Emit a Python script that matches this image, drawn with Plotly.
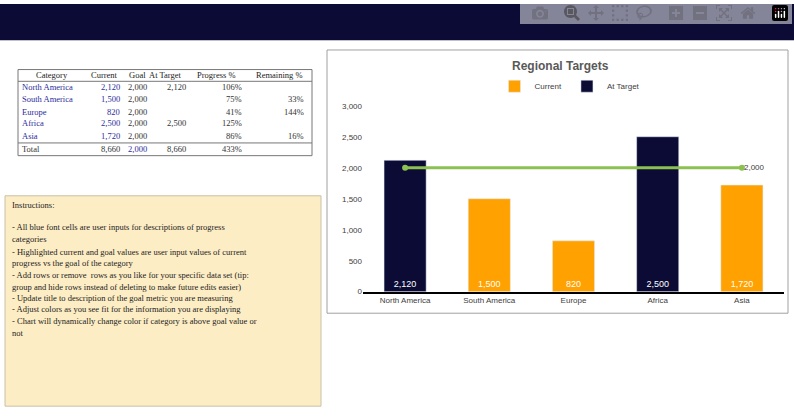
import plotly.graph_objects as go

W, H = 794, 419

categories = ['North America', 'South America', 'Europe', 'Africa', 'Asia']
current = [2120, 1500, 820, 2500, 1720]
goal = [2000, 2000, 2000, 2000, 2000]
at_target = [2120, None, None, 2500, None]
progress = ['106%', '75%', '41%', '125%', '86%']
remaining = ['', '33%', '144%', '', '16%']
total_row = ['Total', '8,660', '2,000', '8,660', '433%', '']

instructions = [
    'Instructions:',
    '',
    '- All blue font cells are user inputs for descriptions of progress',
    'categories',
    '- Highlighted current and goal values are user input values of current',
    'progress vs the goal of the category',
    '- Add rows or remove  rows as you like for your specific data set (tip:',
    'group and hide rows instead of deleting to make future edits easier)',
    '- Update title to description of the goal metric you are measuring',
    '- Adjust colors as you see fit for the information you are displaying',
    '- Chart will dynamically change color if category is above goal value or',
    'not',
]

NAVY = '#0b0b35'
ORANGE = '#ffa100'
GREEN = '#8cc152'
BLUE = '#2b2b9b'
SERIF = 'Liberation Serif'
SANS = 'Liberation Sans'


def px(x):
    return x / W


def py(y):
    return 1 - y / H


def label(x, y, text, size, color, family=SERIF, anchor='left'):
    return dict(x=px(x), y=py(y), xref='paper', yref='paper', text=text, showarrow=False,
                xanchor=anchor, yanchor='middle', font=dict(family=family, size=size, color=color))


fig = go.Figure()

below = [c if a is None else None for c, a in zip(current, at_target)]
fig.add_trace(go.Bar(x=categories, y=below, name='Current', marker_color=ORANGE,
                     width=0.5, text=[f'{v:,}' if v else '' for v in below],
                     textposition='inside', insidetextanchor='start',
                     textfont=dict(color='white', size=9, family=SANS)))
fig.add_trace(go.Bar(x=categories, y=at_target, name='At Target', marker_color=NAVY,
                     width=0.5, text=[f'{v:,}' if v else '' for v in at_target],
                     textposition='inside', insidetextanchor='start',
                     textfont=dict(color='white', size=9, family=SANS)))
fig.add_trace(go.Scatter(x=[categories[0], categories[-1]], y=[goal[0], goal[-1]],
                         mode='lines+markers', line=dict(color=GREEN, width=3),
                         marker=dict(size=6, color=GREEN), showlegend=False,
                         hoverinfo='skip'))
fig.add_annotation(x=categories[-1], y=goal[-1], text=f'{goal[-1]:,}', showarrow=False,
                   xanchor='left', yanchor='middle', font=dict(size=8, color='#404040', family=SANS))

shapes = []
ann = []

# banner
shapes.append(dict(type='rect', xref='paper', yref='paper', x0=0, x1=1, y0=py(37), y1=1,
                   fillcolor=NAVY, line_width=0, layer='below'))
ann.append(label(6, 19, '<b>Progress Chart with Single Target</b>', 19, 'white'))

# chart container
shapes.append(dict(type='rect', xref='paper', yref='paper', x0=px(327), x1=px(788), y0=py(316), y1=py(47),
                   line=dict(color='#a0a0a0', width=1), fillcolor='white', layer='below'))
ann.append(label(560, 63, '<b>Regional Targets</b>', 12, '#595959', SANS, 'center'))

# table
cols = [(20, 'left'), (122, 'right'), (126, 'left'), (188, 'right'), (244, 'right'), (306, 'right')]
header = ['Category', 'Current', 'Goal', 'At Target', 'Progress %', 'Remaining %']
header_x = [52, 104, 137, 165, 216, 279]
row_y = [85, 97, 110, 122, 135]
for h, xx in zip(header, header_x):
    ann.append(label(xx, 73, h, 8.5, '#222', anchor='center'))
for i, cat in enumerate(categories):
    vals = [cat, f'{current[i]:,}', f'{goal[i]:,}',
            f'{at_target[i]:,}' if at_target[i] else '', progress[i], remaining[i]]
    colors = [BLUE, BLUE, '#333', '#333', '#333', '#333']
    for (xx, anc), v, c in zip(cols, vals, colors):
        ann.append(label(xx, row_y[i], v, 8.5, c, anchor=anc))
tot_colors = ['#333', '#333', BLUE, '#333', '#333', '#333']
for (xx, anc), v, c in zip(cols, total_row, tot_colors):
    ann.append(label(xx, 148, v, 8.5, c, anchor=anc))
for yy in [67, 79, 142, 155]:
    shapes.append(dict(type='line', xref='paper', yref='paper', x0=px(18), x1=px(312), y0=py(yy), y1=py(yy),
                       line=dict(color='#777', width=1)))
for xx in [18, 312]:
    shapes.append(dict(type='line', xref='paper', yref='paper', x0=px(xx), x1=px(xx), y0=py(67), y1=py(155),
                       line=dict(color='#777', width=1)))

# instructions box
shapes.append(dict(type='rect', xref='paper', yref='paper', x0=px(5), x1=px(321), y0=py(411), y1=py(196),
                   fillcolor='#fdedc4', line=dict(color='#c8c0a8', width=1), layer='below'))
iy = [205, 216, 228, 240, 253, 265, 277, 289, 300, 312, 324, 336]
for t, yy in zip(instructions, iy):
    if t:
        ann.append(label(10, yy, t, 8.5, '#222'))

fig.update_layout(
    width=W, height=H, margin=dict(l=0, r=0, t=0, b=0),
    paper_bgcolor='white', plot_bgcolor='white',
    barmode='overlay', shapes=shapes, annotations=ann,
    legend=dict(orientation='h', x=px(570), y=py(84), xanchor='center', yanchor='middle',
                font=dict(family=SANS, size=8, color='#404040'), itemwidth=30, bgcolor='rgba(0,0,0,0)'),
    xaxis=dict(domain=[px(363), px(784)], anchor='y', showline=True, linecolor='black', linewidth=1.5,
               tickfont=dict(family=SANS, size=8, color='#404040'), ticks=''),
    yaxis=dict(domain=[py(294), py(104)], range=[0, 3000], dtick=500, tickformat=',', showgrid=False,
               zeroline=False, tickfont=dict(family=SANS, size=8, color='#404040')),
    showlegend=True,
)

fig.write_html('out.html', post_script="document.body.style.margin='0';")
